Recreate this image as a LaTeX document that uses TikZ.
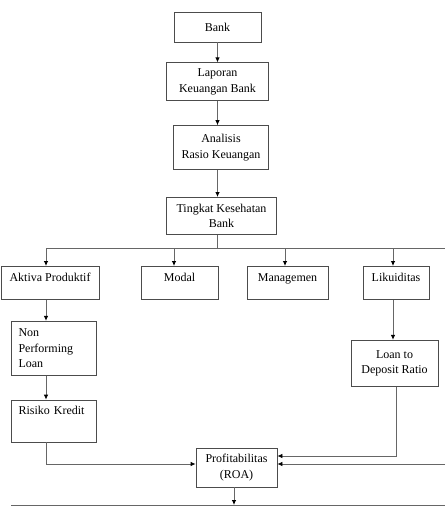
\documentclass[tikz,border=0pt]{standalone}
\usepackage{fontspec}
\setmainfont{Liberation Serif}
\usetikzlibrary{arrows.meta,positioning}

\begin{document}
\begin{tikzpicture}[x=1pt, y=-1pt,
		basic/.style  = {draw=black!70, line width=0.8pt, rectangle, align=center, font=\fontsize{12}{15.5}\selectfont},
		main/.style   = {basic, inner sep=3pt},
		aspect/.style = {basic, inner xsep=3pt, inner ysep=4pt, text height=11pt, text depth=14pt},
		sub/.style    = {basic, align=left, inner xsep=7.5pt, inner ysep=4pt, text width=70pt},
		line/.style   = {draw=black!60, line width=0.8pt},
		>={Latex[length=5pt,width=4.5pt,color=black]}]
		
		\useasboundingbox (0,0) rectangle (445,506);
		
		% Main chain from the bank down to the health level
		\node[main, minimum width=87pt, minimum height=30pt] (bank) at (217.5,27) {Bank};
		\node[main, minimum width=102pt, minimum height=38pt, below=20pt of bank] (lap) {Laporan\\Keuangan Bank};
		\node[main, minimum width=95pt, minimum height=44pt, below=24pt of lap, xshift=3.5pt] (ana) {Analisis\\Rasio Keuangan};
		\node[main, minimum width=110pt, minimum height=37pt, below=27pt of ana, xshift=0.5pt] (tkb) {Tingkat Kesehatan\\Bank};
		
		% The four aspects, at coordinates
		\node[aspect, minimum width=98pt, anchor=north] (akt) at (50,266) {Aktiva Produktif};
		\node[aspect, minimum width=77pt, anchor=north] (mod) at (179.5,266) {Modal};
		\node[aspect, minimum width=81pt, anchor=north] (man) at (287.5,266) {Managemen};
		\node[aspect, minimum width=66pt, anchor=north] (lik) at (396,266) {Likuiditas};
		
		% Ratios below, relatively positioned nodes
		\node[sub, minimum height=54pt, below=21pt of akt, xshift=3.5pt] (npl) {Non\\Performing\\Loan};
		\node[sub, text height=10pt, text depth=24pt, below=24pt of npl] (rk) {Risiko Kredit};
		\node[main, minimum width=87pt, minimum height=46pt, below=40pt of lik, xshift=-1.5pt] (ldr) {Loan to\\Deposit Ratio};
		
		\node[main, minimum width=81pt, minimum height=39pt] (roa) at (236.5,467.5) {Profitabilitas\\(ROA)};
		
		% Free ends of the long lines
		\coordinate (busL) at (46,248);
		\coordinate (busR) at (445,248);
		\coordinate (sideR) at (445,464);
		\coordinate (baseL) at (11,505);
		\coordinate (baseR) at (445,505);
		
		% Arrows of the main chain
		\draw[line,->] (bank.south) -- (bank.south |- lap.north);
		\draw[line,->] (lap.south) -- (lap.south |- ana.north);
		\draw[line,->] ([xshift=-3.5pt]ana.south) -- ([xshift=-3.5pt]ana.south |- tkb.north);
		
		% Bus line to every aspect
		\draw[line] (busL) -- (busR);
		\draw[line] ([xshift=-4pt]tkb.south) -- ([xshift=-4pt]tkb.south |- busL);
		\foreach \n/\dx in {akt/-4, mod/-5.5, man/-2.5, lik/-3}
		\draw[line,->] ([xshift=\dx pt]\n.north |- busL) -- ([xshift=\dx pt]\n.north);
		
		% Left branch
		\draw[line,->] ([xshift=-4pt]akt.south) -- ([xshift=-4pt]akt.south |- npl.north);
		\draw[line,->] ([xshift=-7.5pt]npl.south) -- ([xshift=-7.5pt]npl.south |- rk.north);
		\draw[line,->] ([xshift=-7.5pt]rk.south) |- ([yshift=3.5pt]roa.west);
		
		% Right branch
		\draw[line,->] ([xshift=-3pt]lik.south) -- ([xshift=-3pt]lik.south |- ldr.north);
		\draw[line,->] ([xshift=1.5pt]ldr.south) |- ([yshift=11.5pt]roa.east);
		\draw[line,->] (sideR) -- (sideR -| roa.east);
		
		% Bottom line
		\draw[line] (baseL) -- (baseR);
		\draw[line,->] ([xshift=-2.5pt]roa.south) -- ([xshift=-2.5pt]roa.south |- baseL);
		
	\end{tikzpicture}
\end{document}
